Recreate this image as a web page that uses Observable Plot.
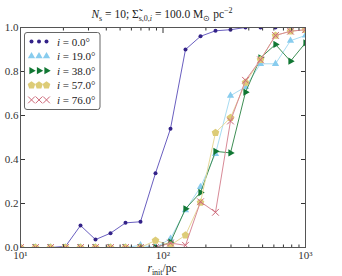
<!DOCTYPE html>
<html><head><meta charset="utf-8">
<script src="https://cdn.jsdelivr.net/npm/d3@7"></script>
<script src="https://cdn.jsdelivr.net/npm/@observablehq/plot@0.6"></script>
<style>body{margin:0;background:#fff}svg{font-family:"Liberation Serif",serif}</style>
</head><body><div id="chart"></div>
<script>
const rInit = [10, 12.74, 16.24, 20.69, 26.37, 33.60, 42.81, 54.56, 69.52, 88.59, 112.88, 143.84, 183.30, 233.57, 297.64, 379.27, 483.29, 615.85, 784.76, 1000];
const f00 = [0, 0, 0, 0.005, 0.10, 0.036, 0.065, 0.112, 0.117, 0.338, 0.54, 0.90, 0.96, 0.985, 0.99, 1.0, 1.0, 1.0, 1.0, 1.0];
const f19 = [0, 0, 0, 0, 0, 0, 0, 0, 0.01, 0.0, 0.04, 0.17, 0.275, 0.426, 0.69, 0.73, 0.835, 0.835, 0.94, 0.964];
const f38 = [0, 0, 0, 0, 0, 0, 0, 0, 0, 0, 0.024, 0.176, 0.25, 0.437, 0.43, 0.706, 0.862, 0.923, 0.847, 0.93];
const f57 = [0, 0, 0, 0, 0, 0, 0, 0, 0, 0.032, 0.01, 0.056, 0.205, 0.522, 0.59, 0.75, 0.853, 0.964, 0.983, 0.99];
const f76 = [0, 0, 0, 0, 0, 0, 0, 0, 0, 0, 0.02, 0.01, 0.208, 0.16, 0.575, 0.76, 0.853, 0.964, 0.983, 0.99];
const labels = ["0.0", "19.0", "38.0", "57.0", "76.0"];
const colors = ["#332288", "#88CCEE", "#117733", "#DDCC77", "#CC6677"];
const lineColors = ["#6a5fc0", "#a8dcf2", "#3f8f55", "#e6d899", "#d88a97"];
const yTicks = [0, 0.2, 0.4, 0.6, 0.8, 1.0];
const xTicks = [10, 100, 1000];
const xTickLabels = ["10¹", "10²", "10³"];
const minorTicks = [20,30,40,50,60,70,80,90,200,300,400,500,600,700,800,900];

function poly(pts){ return {draw(ctx, size){ const r = Math.sqrt(size/Math.PI); pts.forEach(([a,b],i)=>{ i?ctx.lineTo(a*r,b*r):ctx.moveTo(a*r,b*r); }); ctx.closePath(); }}; }
const ang = (n, off) => d3.range(n).map(k => [Math.cos(off + 2*Math.PI*k/n), Math.sin(off + 2*Math.PI*k/n)]);
const triUp = poly(ang(3, -Math.PI/2));
const triRight = poly(ang(3, 0));
const pent = poly(ang(5, -Math.PI/2));
const circ = {draw(ctx,size){ const r=Math.sqrt(size/Math.PI); ctx.moveTo(r,0); ctx.arc(0,0,r,0,2*Math.PI); }};
const timesSym = {draw(ctx,size){ const r=Math.sqrt(size/Math.PI)*0.75; ctx.moveTo(-r,-r); ctx.lineTo(r,r); ctx.moveTo(r,-r); ctx.lineTo(-r,r); }};

const series = [
  {ys: f00, sym: circ, r: 2, fill: true},
  {ys: f19, sym: triUp, r: 4.2, fill: true},
  {ys: f38, sym: triRight, r: 4.2, fill: true},
  {ys: f57, sym: pent, r: 4, fill: true},
  {ys: f76, sym: timesSym, r: 4.5, fill: false}
];

const marks = [];
series.forEach((s, i) => {
  const data = rInit.map((x, k) => ({x, y: s.ys[k]}));
  marks.push(Plot.line(data, {x: "x", y: "y", stroke: lineColors[i], strokeWidth: 1, clip: true}));
  marks.push(Plot.dot(data, {x: "x", y: "y", symbol: s.sym, r: s.r, clip: true,
    fill: s.fill ? colors[i] : "none", stroke: s.fill ? "none" : colors[i], strokeWidth: 1}));
});
const blank = () => "";
marks.push(
  Plot.axisX({anchor: "bottom", ticks: xTicks, tickSize: -5, tickPadding: 9, tickFormat: d => xTickLabels[xTicks.indexOf(d)], label: null}),
  Plot.axisX({anchor: "bottom", ticks: minorTicks, tickSize: -2.5, tickFormat: blank, label: null}),
  Plot.axisX({anchor: "top", ticks: xTicks, tickSize: -5, tickFormat: blank, label: null}),
  Plot.axisX({anchor: "top", ticks: minorTicks, tickSize: -2.5, tickFormat: blank, label: null}),
  Plot.axisY({anchor: "left", ticks: yTicks, tickSize: -5, tickPadding: 7, tickFormat: d => d.toFixed(1), label: null}),
  Plot.axisY({anchor: "right", ticks: yTicks, tickSize: -5, tickFormat: blank, label: null}),
  Plot.frame({stroke: "#555", strokeWidth: 1})
);

const plot = Plot.plot({
  width: 342, height: 276, marginLeft: 20, marginRight: 37, marginTop: 27, marginBottom: 29,
  x: {type: "log", domain: [10, 1000]},
  y: {domain: [0, 1]},
  style: {fontFamily: "Liberation Serif, serif", fontSize: "11px", color: "#333", background: "white"},
  marks
});
document.getElementById("chart").append(plot);

const svg = d3.select(plot);
const FF = "Liberation Serif, serif";
// title
const t = svg.append("text").attr("x", 162).attr("y", 18).attr("text-anchor", "middle")
  .attr("font-size", 11.5).attr("fill", "#222").attr("font-family", FF);
function span(txt, o = {}) { const s = t.append("tspan").text(txt); if (o.it) s.attr("font-style", "italic"); if (o.dy) s.attr("dy", o.dy); if (o.fs) s.attr("font-size", o.fs); return s; }
span("N", {it: 1}); span("s", {dy: 3, fs: 8}); span(" = 10; ", {dy: -3}); span("Σ̃"); span("s,0,", {dy: 3, fs: 8}); span("i", {it: 1, fs: 8});
span(" = 100.0 M", {dy: -3}); span("⊙", {dy: 3, fs: 8}); span(" pc", {dy: -3}); span("−2", {dy: -5, fs: 8});
// x label
const xl = svg.append("text").attr("x", 162).attr("y", 272).attr("text-anchor", "middle")
  .attr("font-size", 11.5).attr("fill", "#222").attr("font-family", FF);
xl.append("tspan").attr("font-style", "italic").text("r");
xl.append("tspan").attr("dy", 3).attr("font-size", 8).text("init");
xl.append("tspan").attr("dy", -3).text("/pc");
// legend
const lg = svg.append("g").attr("text-anchor", "start");
lg.append("rect").attr("x", 24.5).attr("y", 32.5).attr("width", 75.5).attr("height", 77).attr("rx", 2.5)
  .attr("fill", "white").attr("stroke", "#666").attr("stroke-width", 1);
series.forEach((s, i) => {
  const y = 41.5 + i * 14.6;
  [31.5, 39, 46.5].forEach(x => {
    lg.append("path").attr("transform", `translate(${x},${y})`)
      .attr("d", d3.symbol(s.sym, Math.PI * s.r * s.r)())
      .attr("fill", s.fill ? colors[i] : "none").attr("stroke", s.fill ? "none" : colors[i]).attr("stroke-width", 1);
  });
  const tx = lg.append("text").attr("x", 57).attr("y", y + 4).attr("font-size", 11).attr("fill", "#222")
    .attr("text-anchor", "start").attr("font-family", FF);
  tx.append("tspan").attr("font-style", "italic").text("i");
  tx.append("tspan").text(" = " + labels[i] + "°");
});
</script></body></html>
